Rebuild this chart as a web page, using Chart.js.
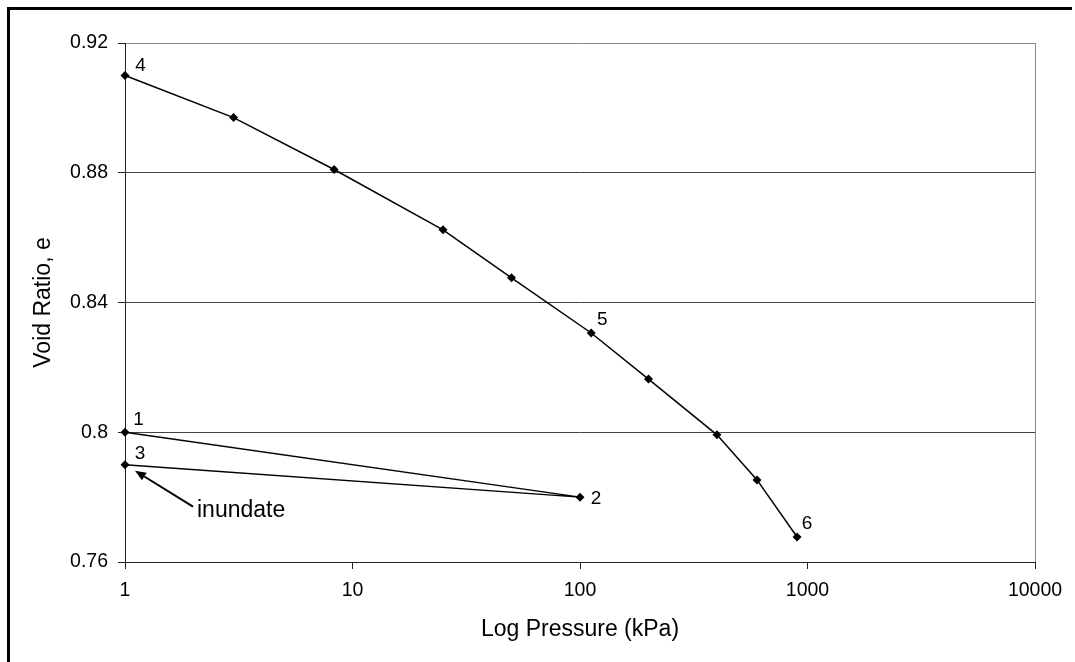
<!DOCTYPE html>
<html>
<head>
<meta charset="utf-8">
<script src="https://cdn.jsdelivr.net/npm/chart.js@4"></script>
<style>
  html, body { margin: 0; padding: 0; background: #fff; }
  #wrap { position: relative; width: 1075px; height: 662px; }
  canvas { display: block; }
</style>
</head>
<body>
<div id="wrap"><canvas id="c" width="1075" height="662"></canvas></div>
<script>
// ---- data ----
const loadPath = [            // points 1 -> 2 -> 3
  { x: 1,   y: 0.80 },
  { x: 100, y: 0.78 },
  { x: 1,   y: 0.79 }
];
const curvePressure = [1, 3, 8.3, 25, 50, 112, 200, 400, 600, 900];
const curveVoid     = [0.910, 0.897, 0.881, 0.8624, 0.8476, 0.8306, 0.8164, 0.7992, 0.7853, 0.7677];

const xTickValues = [1, 10, 100, 1000, 10000];
const xTickLabels = ['1', '10', '100', '1000', '10000'];
const yTickValues = [0.76, 0.80, 0.84, 0.88, 0.92];
const yTickLabels = ['0.76', '0.8', '0.84', '0.88', '0.92'];

// point number labels: dataset index, point index, text
const pointNumbers = [
  { ds: 0, i: 0, text: '1', dx: 13.5, dy: -14 },
  { ds: 0, i: 1, text: '2', dx: 16,   dy: 0 },
  { ds: 0, i: 2, text: '3', dx: 15,   dy: -12 },
  { ds: 1, i: 0, text: '4', dx: 15.5, dy: -11.5 },
  { ds: 1, i: 5, text: '5', dx: 11,   dy: -15 },
  { ds: 1, i: 9, text: '6', dx: 10,   dy: -14.5 }
];
const noteText = 'inundate';
const noteTarget = { ds: 0, i: 2 };

const curveData = curvePressure.map((p, k) => ({ x: p, y: curveVoid[k] }));

const FONT = '"Liberation Sans", Arial, sans-serif';

const decorPlugin = {
  id: 'decor',
  afterDraw(chart) {
    const ctx = chart.ctx;
    const a = chart.chartArea;
    ctx.save();
    // outer frame (top & left visible)
    ctx.fillStyle = '#000';
    ctx.fillRect(7, 7, 1065, 3);
    ctx.fillRect(7, 7, 3, 662);
    // plot area right border
    ctx.strokeStyle = '#888';
    ctx.lineWidth = 1;
    ctx.beginPath();
    ctx.moveTo(Math.round(a.right) + 0.5, a.top);
    ctx.lineTo(Math.round(a.right) + 0.5, a.bottom);
    ctx.stroke();

    // point numbers
    ctx.fillStyle = '#000';
    ctx.font = '19px ' + FONT;
    ctx.textAlign = 'center';
    ctx.textBaseline = 'alphabetic';
    pointNumbers.forEach(p => {
      const el = chart.getDatasetMeta(p.ds).data[p.i];
      ctx.fillText(p.text, el.x + p.dx, el.y + p.dy + 6.8);
    });

    // inundate arrow
    const t = chart.getDatasetMeta(noteTarget.ds).data[noteTarget.i];
    const tipX = t.x + 10, tipY = t.y + 6;
    const tailX = t.x + 68, tailY = t.y + 42;
    const ang = Math.atan2(tipY - tailY, tipX - tailX);
    const hl = 11, hw = 4.5;
    const bx = tipX - hl * Math.cos(ang), by = tipY - hl * Math.sin(ang);
    ctx.strokeStyle = '#000';
    ctx.lineWidth = 2;
    ctx.beginPath();
    ctx.moveTo(tailX, tailY);
    ctx.lineTo(bx, by);
    ctx.stroke();
    ctx.beginPath();
    ctx.moveTo(tipX, tipY);
    ctx.lineTo(bx + hw * Math.sin(ang), by - hw * Math.cos(ang));
    ctx.lineTo(bx - hw * Math.sin(ang), by + hw * Math.cos(ang));
    ctx.closePath();
    ctx.fill();
    ctx.font = '23px ' + FONT;
    ctx.textAlign = 'left';
    ctx.textBaseline = 'middle';
    ctx.fillText(noteText, t.x + 72, t.y + 46);
    ctx.restore();
  }
};

const seriesStyle = {
  showLine: true,
  clip: false,
  borderColor: '#000',
  backgroundColor: '#000',
  borderWidth: 1.5,
  pointStyle: 'rectRot',
  pointRadius: 4.5,
  pointBorderWidth: 0,
  pointBackgroundColor: '#000',
  tension: 0
};

new Chart(document.getElementById('c'), {
  type: 'scatter',
  data: {
    datasets: [
      Object.assign({ data: loadPath }, seriesStyle),
      Object.assign({ data: curveData }, seriesStyle)
    ]
  },
  options: {
    responsive: false,
    animation: false,
    devicePixelRatio: 1,
    layout: { padding: { left: 0, top: 43, right: 40, bottom: 0 } },
    plugins: {
      legend: { display: false },
      tooltip: { enabled: false }
    },
    scales: {
      x: {
        type: 'logarithmic',
        min: 1,
        max: 10000,
        afterBuildTicks(scale) { scale.ticks = xTickValues.map(v => ({ value: v, major: true })); },
        afterFit(scale) { scale.height = 100; },
        ticks: {
          autoSkip: false,
          maxRotation: 0,
          padding: 10,
          color: '#000',
          font: { family: FONT, size: 19.5 },
          callback: (v) => { const k = xTickValues.indexOf(v); return k >= 0 ? xTickLabels[k] : ''; }
        },
        grid: { drawOnChartArea: false, drawTicks: true, tickLength: 7, color: '#222', tickColor: '#222' },
        border: { display: true, color: '#222', width: 1 },
        title: {
          display: true,
          text: 'Log Pressure (kPa)',
          color: '#000',
          font: { family: FONT, size: 23 },
          padding: { top: 0, bottom: 19 }
        }
      },
      y: {
        type: 'linear',
        min: 0.76,
        max: 0.92,
        afterBuildTicks(scale) { scale.ticks = yTickValues.map(v => ({ value: v })); },
        afterFit(scale) { scale.width = 125; },
        ticks: {
          padding: 10,
          color: '#000',
          font: { family: FONT, size: 19.5 },
          callback: (v, idx) => yTickLabels[idx]
        },
        grid: {
          drawTicks: true,
          tickLength: 7,
          color: (c) => (c.tick && Math.abs(c.tick.value - 0.92) < 1e-9) ? '#888' : '#444',
          tickColor: '#222'
        },
        border: { display: true, color: '#222', width: 1 },
        title: {
          display: true,
          text: 'Void Ratio, e',
          color: '#000',
          font: { family: FONT, size: 23 },
          padding: { top: 30, bottom: 0 }
        }
      }
    }
  },
  plugins: [decorPlugin]
});
</script>
</body>
</html>
